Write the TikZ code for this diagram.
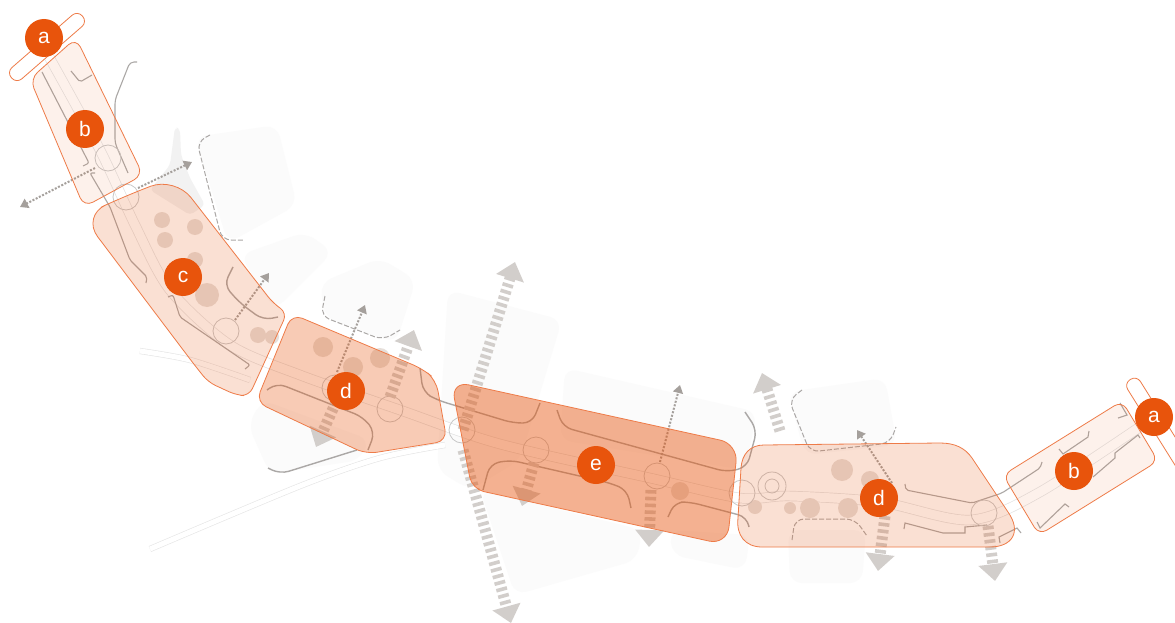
\documentclass[tikz,border=0pt]{standalone}
\usepackage{fontspec}
\setmainfont{Liberation Sans}
\usetikzlibrary{arrows.meta}
\definecolor{burnt}{HTML}{E8540C}
\definecolor{zoneline}{HTML}{EE7B48}
\definecolor{stripe}{HTML}{D2CECB}
\definecolor{kerbgrey}{HTML}{ABA8A6}
\definecolor{dotgrey}{HTML}{A5A09C}
\definecolor{blockgrey}{HTML}{FBFBFB}
\definecolor{treebrown}{HTML}{E6DFDA}
\tikzset{
  block/.style={fill=blockgrey,rounded corners=12pt},
  road/.style={draw=black!11,line width=.7pt,double=white,double distance=9pt},
  sideroad/.style={draw=black!10,line width=.6pt,double=white,double distance=5pt},
  kerb/.style={draw=kerbgrey,line width=1.1pt,rounded corners=2pt},
  kerbcurve/.style={draw=kerbgrey,line width=1.4pt,rounded corners=9pt},
  kerbdash/.style={draw=kerbgrey,line width=1pt,dash pattern=on 5pt off 2pt,rounded corners=9pt},
  tree/.style={fill=treebrown},
  junction/.style={draw=black!22,line width=.8pt},
  wide/.style={draw=stripe,line width=11pt,dash pattern=on 3.6pt off 3.2pt,-{Triangle[width=28pt,length=17pt]}},
  access/.style={draw=dotgrey,line width=2pt,dash pattern=on 2pt off 1.6pt,-{Triangle[width=10pt,length=8pt]}},
  zonea/.style={draw=zoneline,line width=.8pt,fill=white,rectangle,rounded corners=7pt},
  zonefill/.style={draw=zoneline,line width=.8pt,fill=burnt,fill opacity=#1},
  tag/.style={circle,fill=burnt,text=white,minimum size=38pt,inner sep=0pt,font=\fontsize{21}{21}\selectfont},
}
\begin{document}
\begin{tikzpicture}[x=1pt,y=-1pt]
  \useasboundingbox (0,0) rectangle (1175,623);
  \fill[white] (0,0) rectangle (1175,623);

  \fill[block] (195,137) -- (277,125) -- (297,205) -- (228,243) -- cycle;
  \fill[block] (240,255) -- (305,232) -- (333,252) -- (275,310) -- cycle;
  \fill[block] (320,283) -- (380,258) -- (416,280) -- (396,343) -- (325,318) -- cycle;
  \fill[block] (448,290) -- (562,320) -- (520,460) -- (470,490) -- (437,470) -- cycle;
  \fill[block] (565,368) -- (757,412) -- (745,470) -- (560,440) -- cycle;
  \fill[block] (480,490) -- (642,530) -- (637,560) -- (515,595) -- cycle;
  \fill[block] (670,530) -- (750,535) -- (745,570) -- (672,555) -- cycle;
  \fill[block] (262,400) -- (248,425) -- (270,474) -- (360,460) -- (370,440) -- cycle;
  \fill[block] (788,392) -- (885,378) -- (897,445) -- (805,455) -- cycle;
  \fill[block] (788,530) -- (866,530) -- (862,583) -- (790,583) -- cycle;

  \fill[black!5,rounded corners=4pt] (175,127) -- (180,129) -- (181,155) -- (190,178) -- (205,205) -- (190,215) -- (150,190) -- (170,165) -- cycle;

  \draw[sideroad] plot[smooth] coordinates {(140,351) (190,360) (250,380)};
  \draw[sideroad] plot[smooth] coordinates {(150,549) (300,486) (380,458) (445,445)};
  \draw[road] plot[smooth] coordinates {(48,55) (100,150) (135,225) (170,290) (230,345) (300,375) (400,410) (500,444) (650,478) (740,498) (790,496) (880,502) (970,520) (1040,492) (1150,420)};

  \fill[tree] (162,220) circle (8);
  \fill[tree] (195,227) circle (8);
  \fill[tree] (165,240) circle (8);
  \fill[tree] (195,260) circle (8);
  \fill[tree] (207,295) circle (12);
  \fill[tree] (258,335) circle (8);
  \fill[tree] (272,337) circle (7);
  \fill[tree] (323,347) circle (10);
  \fill[tree] (353,367) circle (10);
  \fill[tree] (380,358) circle (10);
  \fill[tree] (680,491) circle (9);
  \fill[tree] (755,507) circle (7);
  \fill[tree] (842,470) circle (11);
  \fill[tree] (870,480) circle (9);
  \fill[tree] (810,508) circle (10);
  \fill[tree] (848,508) circle (10);
  \fill[tree] (790,508) circle (6);

  \draw[kerb] (42,72) -- (89,163) -- (83,166);
  \draw[kerb] (95,173) -- (90,173) -- (110,207) -- (130,260) -- (147,277) -- (146,283);
  \draw[kerb] (71,71) -- (80,82) -- (92,75);
  \draw[kerb,rounded corners=4pt] (137,62) -- (130,62) -- (115,100) -- (115,143) -- (128,173);
  \draw[kerb] (168,297) -- (173,295) -- (180,317) -- (250,365) -- (245,369);
  \draw[kerbcurve] (233,267) -- (224,285) -- (240,303) -- (263,320) -- (278,317);
  \draw[kerbcurve] (267,390) -- (277,383) -- (363,417) -- (375,432) -- (368,450);
  \draw[kerbcurve] (268,468) -- (280,474) -- (357,450);
  \draw[kerbcurve] (420,368) -- (423,392) -- (437,400) -- (513,423) -- (532,423) -- (540,403);
  \draw[kerbcurve] (557,410) -- (563,427) -- (727,472) -- (747,467) -- (757,430) -- (745,412);
  \draw[kerbcurve] (483,490) -- (490,464) -- (510,460) -- (610,483) -- (627,490) -- (631,508);
  \draw[kerbcurve] (668,517) -- (675,502) -- (690,502) -- (747,517) -- (749,527);
  \draw[kerb] (905,484) -- (906,490) -- (972,503) -- (1002,493) -- (1040,468) -- (1042,462);
  \draw[kerb,rounded corners=0pt] (904,529) -- (905,523) -- (943,533) -- (965,533) -- (965,527) -- (987,525);
  \draw[kerb,rounded corners=0pt] (1000,543) -- (999,537) -- (1017,528) -- (1021,533);
  \draw[kerb,rounded corners=0pt] (1059,449) -- (1063,454) -- (1088,437) -- (1089,431);
  \draw[kerb,rounded corners=0pt] (1037,522) -- (1040,528) -- (1065,504) -- (1069,507);
  \draw[kerb,rounded corners=0pt] (1093,477) -- (1115,458) -- (1115,453) -- (1138,435) -- (1140,438);
  \draw[kerb,rounded corners=0pt] (1118,418) -- (1127,415) -- (1120,403);
  \draw[kerbdash] (210,135) -- (197,142) -- (222,240) -- (244,240);
  \draw[kerbdash] (325,296) -- (321,316) -- (383,340) -- (400,330);
  \draw[kerbdash] (802,390) -- (789,400) -- (810,452) -- (890,443) -- (896,427);
  \draw[kerbdash] (792,540) -- (795,519) -- (855,519) -- (867,536);

  \draw[junction] (108,158) circle (13);
  \draw[junction] (126,197) circle (13);
  \draw[junction] (226,331) circle (13);
  \draw[junction] (335,388) circle (13);
  \draw[junction] (390,409) circle (13);
  \draw[junction] (462,430) circle (13);
  \draw[junction] (536,450) circle (13);
  \draw[junction] (657,476) circle (13);
  \draw[junction] (742,493) circle (13);
  \draw[junction] (772,486) circle (14);
  \draw[junction] (772,486) circle (7);
  \draw[junction] (984,513) circle (13);

  \coordinate (crossup) at (515,262);
  \coordinate (crossdown) at (511,623);
  \coordinate (dleftj) at (390,397);
  \coordinate (dleftup) at (414,330);
  \coordinate (dleftk) at (336,402);
  \coordinate (dleftdown) at (316,447);
  \coordinate (ej) at (534,463);
  \coordinate (edown) at (522,506);
  \coordinate (fj) at (651,490);
  \coordinate (fdown) at (649,547);
  \coordinate (gj) at (780,431);
  \coordinate (gup) at (762,373);
  \coordinate (hj) at (885,516);
  \coordinate (hdown) at (878,571);
  \coordinate (ij) at (988,526);
  \coordinate (idown) at (995,581);
  \draw[wide] (463,430) -- (crossup);
  \draw[wide] (463,450) -- (crossdown);
  \draw[wide] (dleftj) -- (dleftup);
  \draw[wide] (dleftk) -- (dleftdown);
  \draw[wide] (ej) -- (edown);
  \draw[wide] (fj) -- (fdown);
  \draw[wide] (gj) -- (gup);
  \draw[wide] (hj) -- (hdown);
  \draw[wide] (ij) -- (idown);

  \coordinate (ba) at (95,168);
  \coordinate (bb) at (20,207);
  \coordinate (bc) at (138,188);
  \coordinate (bd) at (192,162);
  \coordinate (ca) at (235,320);
  \coordinate (cb) at (269,273);
  \coordinate (da) at (337,372);
  \coordinate (db) at (365,305);
  \coordinate (ea) at (660,462);
  \coordinate (eb) at (680,385);
  \coordinate (fa) at (892,483);
  \coordinate (fb) at (857,430);
  \draw[access] (ba) -- (bb);
  \draw[access] (bc) -- (bd);
  \draw[access] (ca) -- (cb);
  \draw[access] (da) -- (db);
  \draw[access] (ea) -- (eb);
  \draw[access] (fa) -- (fb);

  \node[zonea,rotate=41,minimum width=94pt,minimum height=15pt] (capleft) at (47,47) {};
  \node[zonea,rotate=-58,minimum width=112pt,minimum height=15pt] (capright) at (1160,427) {};
  \path[zonefill=.08,rounded corners=10pt] (30,79) -- (76,38) -- (143,175) -- (84,207) -- cycle;
  \path[zonefill=.08,rounded corners=9pt] (1003,475) -- (1122,401) -- (1158,461) -- (1039,535) -- cycle;
  \path[zonefill=.18,rounded corners=26pt] (125,196) -- (175,177)
    [rounded corners=8pt] -- (273,303) -- (287,313) -- (249,396)
    -- (236,395) -- (208,382) -- (193,363)
    [rounded corners=26pt] -- (82,216) -- cycle;
  \path[zonefill=.3,rounded corners=11pt] (292,314) -- (256,402) -- (366,454) -- (447,441) -- (436,380) -- (423,369) -- cycle;
  \path[zonefill=.45,rounded corners=12pt] (451,381) -- (472,489)
    [rounded corners=18pt] -- (727,545) -- (738,444) -- cycle;
  \path[zonefill=.18] (764,445) -- (940,443) .. controls (955,443) and (965,448) .. (972,458)
    -- (1008,512) .. controls (1022,532) and (1012,547) .. (990,547)
    -- (762,547) .. controls (745,547) and (736,535) .. (738,518)
    -- (741,468) .. controls (742,454) and (750,445) .. (764,445) -- cycle;

  \node[tag] (taga) at (44,38) {a};
  \node[tag] (tagb) at (85,129) {b};
  \node[tag] (tagc) at (183,277) {c};
  \node[tag] (tagd) at (346,391) {d};
  \node[tag] (tage) at (596,465) {e};
  \node[tag] (tagf) at (879,498) {d};
  \node[tag] (tagg) at (1074,471) {b};
  \node[tag] (tagh) at (1154,417) {a};
\end{tikzpicture}
\end{document}
